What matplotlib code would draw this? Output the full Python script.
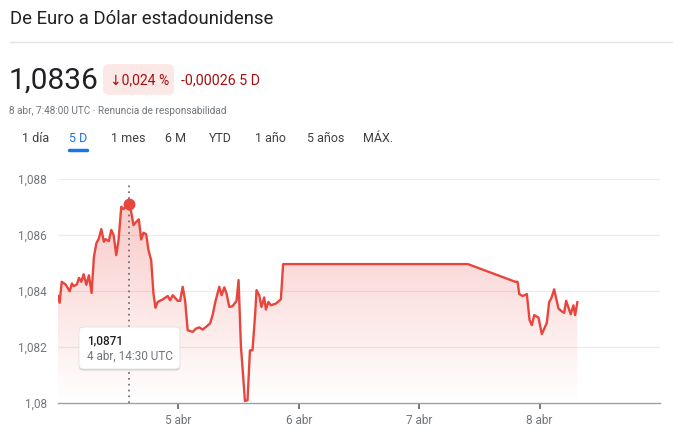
import matplotlib
matplotlib.use('Agg')
import matplotlib.pyplot as plt
import numpy as np
from matplotlib.patches import Polygon, FancyBboxPatch

plt.rcParams['font.family'] = ['Roboto', 'DejaVu Sans']

# hours since 4 abr 00:00 UTC and EUR/USD rate
hours = [0.0, 0.34, 0.74, 1.53, 2.33, 2.78, 3.12, 3.78, 4.18, 4.65, 5.11, 5.65, 6.16, 6.70,
         7.16, 7.64, 8.15, 8.63, 9.15, 9.48, 10.14, 10.62, 11.08, 11.61, 12.07, 12.61, 13.06,
         13.46, 14.12, 14.59, 15.05, 15.59, 16.11, 16.58, 17.04, 17.58, 18.03, 18.57, 19.03,
         19.43, 19.88, 20.88, 21.87, 22.35, 22.87, 23.86, 24.34, 24.85, 25.33, 25.85, 26.84,
         27.52, 28.18, 28.83, 29.51, 30.30, 30.82, 31.36, 32.15, 32.61, 33.15, 33.60, 34.14,
         34.80, 35.59, 35.99, 36.47, 36.92, 37.26, 37.78, 38.26, 38.77, 39.31, 39.57, 40.10,
         40.56, 41.10, 41.44, 41.95, 42.43, 43.43, 44.42, 44.88, 81.72, 91.15, 91.61, 91.95,
         92.61, 93.46, 94.00, 94.45, 94.93, 95.78, 96.44, 97.43, 97.91, 98.31, 98.90, 99.76,
         100.29, 100.89, 101.29, 102.20, 102.74, 103.08, 103.53]
rates = [1.08382, 1.08358, 1.08433, 1.08423, 1.08399, 1.08427, 1.08417, 1.08424, 1.08447,
         1.08433, 1.08460, 1.08422, 1.08456, 1.08393, 1.08522, 1.08570, 1.08588, 1.08621,
         1.08576, 1.08585, 1.08578, 1.08618, 1.08600, 1.08528, 1.08582, 1.08701, 1.08692,
         1.08701, 1.08710, 1.08683, 1.08635, 1.08647, 1.08656, 1.08584, 1.08608, 1.08603,
         1.08546, 1.08510, 1.08391, 1.08340, 1.08361, 1.08370, 1.08382, 1.08367, 1.08385,
         1.08365, 1.08365, 1.08415, 1.08367, 1.08260, 1.08254, 1.08266, 1.08270, 1.08262,
         1.08272, 1.08284, 1.08314, 1.08361, 1.08415, 1.08385, 1.08413, 1.08391, 1.08343,
         1.08346, 1.08365, 1.08439, 1.08200, 1.08093, 1.08007, 1.08010, 1.08188, 1.08188,
         1.08320, 1.08403, 1.08385, 1.08343, 1.08377, 1.08334, 1.08361, 1.08349, 1.08355,
         1.08370, 1.08496, 1.08496, 1.08433, 1.08433, 1.08389, 1.08382, 1.08389, 1.08296,
         1.08278, 1.08314, 1.08305, 1.08246, 1.08286, 1.08361, 1.08373, 1.08406, 1.08338,
         1.08329, 1.08322, 1.08365, 1.08317, 1.08349, 1.08314, 1.08360]

y_ticks = [1.080, 1.082, 1.084, 1.086, 1.088]
y_labels = ['1,08', '1,082', '1,084', '1,086', '1,088']
x_ticks = [24, 48, 72, 96]
x_labels = ['5 abr', '6 abr', '7 abr', '8 abr']
tabs = ['1 día', '5 D', '1 mes', '6 M', 'YTD', '1 año', '5 años', 'MÁX.']
tab_x = [22, 69, 111, 165, 209, 255, 307, 363]
peak_idx = 28

RED = '#e8453c'
DARK_RED = '#a50e0e'
GRAY = '#70757a'

W, H = 673, 438
fig = plt.figure(figsize=(W / 100, H / 100), dpi=100)
fig.patch.set_facecolor('white')


def px(x, y):
    return x / W, 1 - y / H


# header
fig.text(*px(10, 19), 'De Euro a Dólar estadounidense', fontsize=13.3, color='#202124', va='center')
fig.add_artist(plt.Line2D([10 / W, 1], [1 - 42 / H] * 2, color='#e4e4e4', lw=1))
fig.text(*px(9, 81), '1,0836', fontsize=21.5, color='#202124', va='center')
fig.add_artist(FancyBboxPatch(px(103, 95), 71 / W, 31 / H, boxstyle='round,pad=0,rounding_size=0.012',
                              fc='#fce8e6', ec='none', transform=fig.transFigure))
fig.text(*px(110, 80), '↓0,024 %', fontsize=10, color=DARK_RED, va='center')
fig.text(*px(181, 80), '-0,00026 5 D', fontsize=10.3, color=DARK_RED, va='center')
fig.text(*px(9, 111), '8 abr, 7:48:00 UTC · Renuncia de responsabilidad', fontsize=7.2, color=GRAY, va='center')
for label, x in zip(tabs, tab_x):
    fig.text(*px(x, 139), label, fontsize=9, color='#1a73e8' if label == '5 D' else '#3c4043', va='center')
fig.add_artist(plt.Line2D([69 / W, 87 / W], [1 - 150 / H] * 2, color='#1a73e8', lw=2.5,
                          solid_capstyle='round'))

# chart
ax = fig.add_axes([58 / W, 1 - 403 / H, 602 / W, 224 / H])
ax.set_xlim(0, 120)
ax.set_ylim(1.080, 1.088)

verts = [(hours[0], 1.080)] + list(zip(hours, rates)) + [(hours[-1], 1.080)]
clip = Polygon(verts, closed=True, fc='none', ec='none')
ax.add_patch(clip)
grad = np.zeros((256, 1, 4))
grad[..., 0], grad[..., 1], grad[..., 2] = 0.91, 0.27, 0.24
grad[..., 3] = np.linspace(0.32, 0.0, 256).reshape(-1, 1)
im = ax.imshow(grad, extent=[0, 120, 1.080, 1.088], aspect='auto', origin='upper', zorder=1)
im.set_clip_path(clip)

ax.plot(hours, rates, color=RED, lw=1.7, zorder=3, solid_joinstyle='round')
ax.vlines(hours[peak_idx], 1.080, 1.0879, colors='#5f6368', linestyles=(0, (1, 2.5)), lw=1.2, zorder=2)
ax.plot(hours[peak_idx], rates[peak_idx], 'o', color=RED, ms=7.5, zorder=4, clip_on=False)

for t in y_ticks[1:]:
    ax.axhline(t, color='#ececec', lw=0.9, zorder=0)
ax.set_yticks(y_ticks)
ax.set_yticklabels(y_labels)
ax.set_xticks(x_ticks)
ax.set_xticklabels(x_labels)
ax.tick_params(axis='y', length=0, pad=8, labelsize=8.5, labelcolor=GRAY)
ax.tick_params(axis='x', length=4, width=1.2, color='#5f6368', pad=4, labelsize=8.5, labelcolor=GRAY)
for side in ['top', 'right', 'left']:
    ax.spines[side].set_visible(False)
ax.spines['bottom'].set_color('#9aa0a6')
ax.spines['bottom'].set_linewidth(1)

# tooltip
for off, fc, ec, z in [(1.5, '#d0d0d0', 'none', 5), (0, 'white', '#e0e0e0', 6)]:
    fig.add_artist(FancyBboxPatch(px(79, 369 + off), 101 / W, 42 / H,
                                  boxstyle='round,pad=0,rounding_size=0.008',
                                  fc=fc, ec=ec, lw=0.6, transform=fig.transFigure, zorder=z))
fig.text(*px(87, 341), '1,0871', fontsize=8.5, color='#202124', fontweight='medium', va='center', zorder=7)
fig.text(*px(87, 356), '4 abr, 14:30 UTC', fontsize=8.5, color=GRAY, va='center', zorder=7)

fig.savefig('out.png', dpi=100)
